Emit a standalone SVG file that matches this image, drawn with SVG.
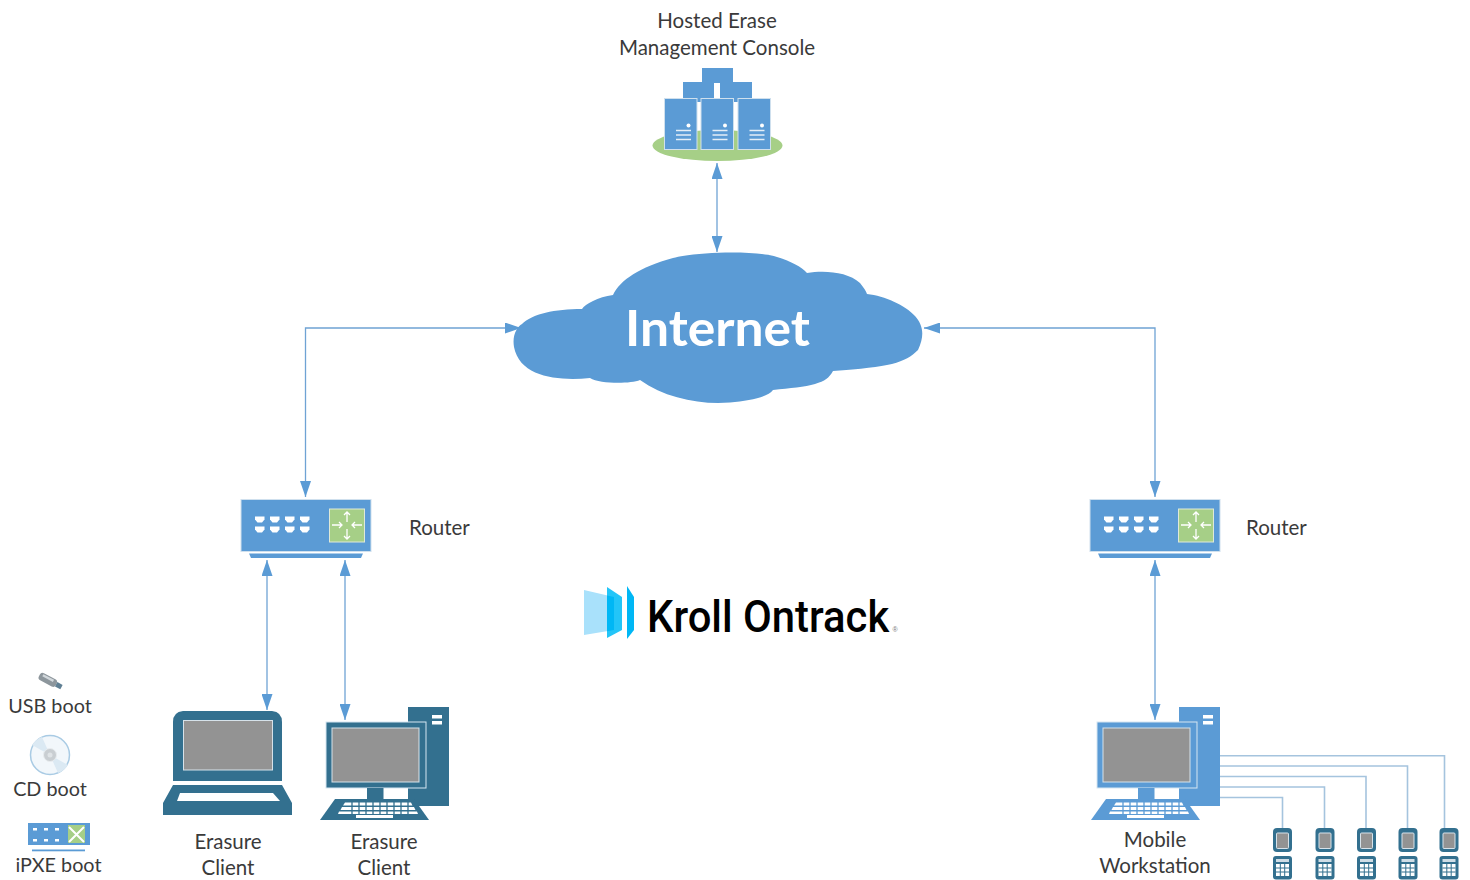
<svg xmlns="http://www.w3.org/2000/svg" xmlns:xlink="http://www.w3.org/1999/xlink" width="1470" height="880" viewBox="0 0 1470 880">
<style>
text{font-family:"Lato","Open Sans","Liberation Sans",sans-serif}
.lbl{font-size:20.500px;fill:#3a3a3a}
.boot{font-size:19.800px}
.mid{text-anchor:middle}
.conn{fill:none;stroke:#6fa3d4;stroke-width:1.3}
.feed{fill:none;stroke:#a5c4de;stroke-width:1.6}
.blue{fill:#5b9bd5}
.pale{stroke:#cfe0ee;stroke-width:1}
.white{fill:#fff}
.teal{fill:#33708f}
.gray{fill:#939393;stroke:#d6e2ea;stroke-width:1}
.tick{fill:none;stroke:#fff;stroke-width:1.3}
</style>
<defs>
<marker id="head" viewBox="0 0 16 11" refX="16" refY="5.500" markerWidth="16" markerHeight="11" markerUnits="userSpaceOnUse" orient="auto-start-reverse"><path d="M0 0L16 5.500L0 11Z" fill="#5b9bd5"/></marker>
<g id="router">
<rect x="241" y="499.500" width="130" height="52" class="blue pale"/>
<path d="M249 553.500H363L361 558H251Z" class="blue"/>
<g class="white">
<path id="p" d="M255 516.500h9.500v3l-2.500 3h-4.500l-2.500-3z"/>
<use href="#p" x="15"/><use href="#p" x="30"/><use href="#p" x="45"/>
<use href="#p" y="10"/><use href="#p" x="15" y="10"/><use href="#p" x="30" y="10"/><use href="#p" x="45" y="10"/>
</g>
<rect x="329.500" y="509" width="35" height="33" fill="#a6cf87" stroke="#dfe9d8"/>
<g class="tick"><path d="M347 512V522M344 515L347 512L350 515M347 529V539M344 536L347 539L350 536M332 525H342M339 522L342 525L339 528M362 525H352M355 522L352 525L355 528"/></g>
</g>
<g id="pc">
<rect x="408" y="707" width="41" height="99" fill="currentColor"/>
<rect x="432" y="715" width="10" height="3.500" class="white"/>
<rect x="432" y="721" width="10" height="3.500" class="white"/>
<rect x="326" y="722" width="100" height="66" fill="currentColor" stroke="#d6e6f2" stroke-width="1"/>
<rect x="332" y="728" width="87" height="54" class="gray"/>
<rect x="367" y="788" width="16.500" height="11" fill="currentColor"/>
<path d="M335 799H414L429 820H320Z" fill="currentColor"/>
<g class="white">
<path d="M345 802.500h66l1.500 3h-69.500zM342 807h72l1.500 3h-75zM339 811.500h78l1 2.500h-80z"/>
<rect x="356" y="815" width="37" height="3"/>
</g>
<g stroke="currentColor" stroke-width="1.300"><path d="M352 802V814M359 802V814M366 802V814M373 802V814M380 802V814M387 802V814M394 802V814M401 802V814M408 802V814"/></g>
</g>
<g id="phone">
<rect x="-9.500" y="828" width="19" height="24" rx="4" class="teal"/>
<rect x="-6" y="833" width="12" height="15.500" rx="1" class="gray"/>
<rect x="-9.500" y="856" width="19" height="23.500" rx="3" class="teal"/>
<rect x="-6.500" y="859" width="13" height="3" fill="#cfdde6"/>
<rect x="-6.500" y="864" width="13" height="12" class="white"/>
<path d="M-6.500 868H6.500M-6.500 872H6.500M-2.200 864V876M2.200 864V876" stroke="#33708f" stroke-width="1"/>
</g>
</defs>

<g id="connectors">
<path class="conn" d="M717 163V252" marker-start="url(#head)" marker-end="url(#head)"/>
<path class="conn" d="M305.500 497V328H521" marker-start="url(#head)" marker-end="url(#head)"/>
<path class="conn" d="M1155 497V328H924" marker-start="url(#head)" marker-end="url(#head)"/>
<path class="conn" d="M267 560V710" marker-start="url(#head)" marker-end="url(#head)"/>
<path class="conn" d="M345 560V720" marker-start="url(#head)" marker-end="url(#head)"/>
<path class="conn" d="M1155 560V720" marker-start="url(#head)" marker-end="url(#head)"/>
<path class="feed" d="M1219 755.700H1444.500V828"/>
<path class="feed" d="M1219 766H1407.500V828"/>
<path class="feed" d="M1219 776.500H1366V828"/>
<path class="feed" d="M1219 787H1324.500V828"/>
<path class="feed" d="M1219 797.500H1282.500V828"/>
</g>

<g id="console">
<rect x="702" y="68" width="31" height="15" class="blue"/>
<rect x="683" y="82" width="31" height="20" class="blue"/>
<rect x="720" y="82" width="32" height="20" class="blue"/>
<ellipse cx="717.500" cy="145.500" rx="65" ry="15.500" fill="#a6cf87"/>
<g id="srv">
<rect x="664.500" y="98.500" width="32.500" height="51" class="blue pale"/>
<circle cx="688.500" cy="125.500" r="2" class="white"/>
<path d="M676 130.500H691M676 135H691M676 139.500H691" stroke="#e4eef7" stroke-width="1.500"/>
</g>
<use href="#srv" x="36.500"/>
<use href="#srv" x="73.500"/>
<text class="lbl mid" x="717" y="28">Hosted Erase</text>
<text class="lbl mid" x="717" y="55">Management Console</text>
</g>

<g id="internet">
<path class="blue" d="M514 347C512 335 517 327 522 324C532 314 555 309 582 309C585 304 598 297 613 295C620 280 640 267 673 258C695 252 755 250 777 257C790 261 802 267 807 273C825 270 848 272 860 283C864 288 866 291 867 294C885 296 905 305 915 316C923 325 925 335 918 350C905 363 890 367 833 371C829 378 825 381 815 384C805 387 790 388 773 390C768 397 750 401 730 402.500C700 405 665 398 640 380C630 384 600 384 590 378C560 381 520 378 514 347Z"/>
<text x="625" y="346" font-size="50" font-weight="700" fill="#fff" textLength="185" lengthAdjust="spacingAndGlyphs">Internet</text>
</g>

<g id="router-left"><use href="#router"/><text class="lbl" x="409" y="535">Router</text></g>
<g id="router-right"><use href="#router" x="849"/><text class="lbl" x="1246" y="535">Router</text></g>

<g id="logo">
<path d="M584 590L614 597V630L584 635Z" fill="#a9e1fb"/>
<path d="M607 587L622 597V630L607 638Z" fill="#23c5f8"/>
<path d="M607 595.400L614 597V630L607 631.200Z" fill="#00b7f5"/>
<path d="M627 586L634 597V630L627 639Z" fill="#00b7f5"/>
<text transform="translate(647 632) scale(.95 1)" font-size="44" font-weight="500" fill="#000" style="font-family:Roboto,'Liberation Sans',sans-serif">Kroll Ontrack</text>
<text x="892.500" y="632" font-size="7" fill="#777" style="font-family:'Liberation Sans',sans-serif">®</text>
</g>

<g id="laptop">
<path class="teal" d="M183 711H272Q282 712 282 722V781H173V722Q173 712 183 711Z"/>
<rect x="183.500" y="720.500" width="89" height="49.500" class="gray"/>
<path class="teal" d="M173 785H282L292 803V815H163V803ZM180 793L177 801H280L273 793Z" fill-rule="evenodd"/>
<text class="lbl mid" x="228" y="849">Erasure</text>
<text class="lbl mid" x="228" y="875">Client</text>
</g>

<g id="desktop">
<use href="#pc" color="#33708f"/>
<text class="lbl mid" x="384" y="849">Erasure</text>
<text class="lbl mid" x="384" y="875">Client</text>
</g>

<g id="workstation">
<use href="#pc" x="771" color="#5b9bd5"/>
<text class="lbl mid" x="1155" y="847">Mobile</text>
<text class="lbl mid" x="1155" y="873">Workstation</text>
</g>

<g id="phones">
<use href="#phone" x="1282.500"/>
<use href="#phone" x="1325"/>
<use href="#phone" x="1366.500"/>
<use href="#phone" x="1408"/>
<use href="#phone" x="1449"/>
</g>

<g id="usb-boot">
<g transform="rotate(28 50 681)">
<rect x="38" y="677" width="19" height="8" rx="3" fill="#8d969c"/>
<rect x="41" y="678" width="12" height="2.500" fill="#d2d8dc"/>
<rect x="57" y="678.500" width="6" height="5" fill="#5f7f93"/>
</g>
<text class="lbl boot mid" x="50" y="713">USB boot</text>
</g>
<g id="cd-boot">
<circle cx="50" cy="755" r="19.500" fill="#f2f7fb" stroke="#a9cbe4" stroke-width="1.500"/>
<path d="M50 755L32 745A20 20 0 0 1 42 737ZM50 755L68 765A20 20 0 0 1 58 773Z" fill="#dbe9f3"/>
<circle cx="50" cy="755" r="6.500" fill="#c9ced2" stroke="#e8ecef"/>
<circle cx="50" cy="755" r="2.500" fill="#dfe3e6"/>
<text class="lbl boot mid" x="50" y="796">CD boot</text>
</g>
<g id="ipxe-boot">
<rect x="28" y="823" width="62" height="22" class="blue"/>
<g class="white"><rect x="33" y="828" width="4" height="2.500"/><rect x="44" y="828" width="4" height="2.500"/><rect x="55" y="828" width="4" height="2.500"/><rect x="33" y="839" width="4" height="2.500"/><rect x="44" y="839" width="4" height="2.500"/><rect x="55" y="839" width="4" height="2.500"/></g>
<rect x="68" y="825" width="17" height="18" fill="#a6cf87"/>
<path d="M69 827L84 842M84 827L69 842" stroke="#fff" stroke-width="2"/>
<rect x="32" y="849.500" width="53" height="1.800" class="blue"/>
<text class="lbl boot mid" x="58.500" y="872">iPXE boot</text>
</g>
</svg>
